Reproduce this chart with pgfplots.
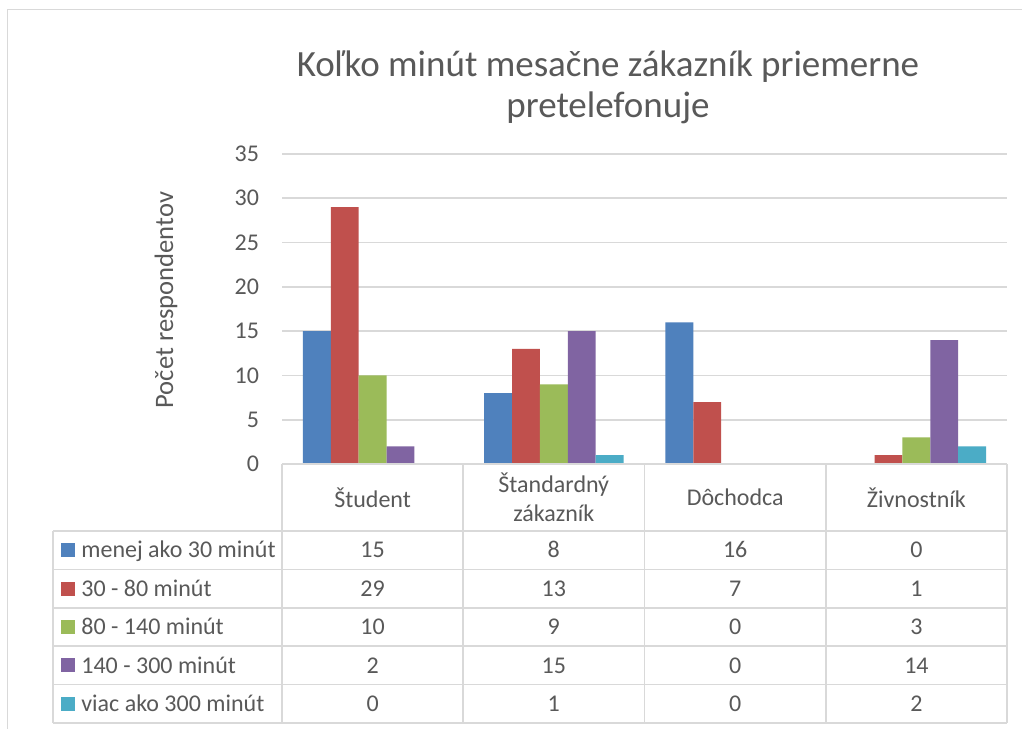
\documentclass[border=0pt]{standalone}
\usepackage{pgfplots}
\pgfplotsset{compat=1.18}
\usepackage{fontspec}
\setmainfont{Carlito}
\setsansfont{Carlito}
\definecolor{txt}{HTML}{595959}
\definecolor{grd}{HTML}{D9D9D9}
\definecolor{c1}{HTML}{4F81BD}
\definecolor{c2}{HTML}{C0504D}
\definecolor{c3}{HTML}{9BBB59}
\definecolor{c4}{HTML}{8064A2}
\definecolor{c5}{HTML}{4BACC6}
\newcommand{\tf}{\fontsize{12bp}{14.6bp}\selectfont}
\begin{document}
\begin{tikzpicture}[x=1bp,y=1bp]
\useasboundingbox (0,0) rectangle (511,364);
\clip (0,0) rectangle (511,364);
\fill[white] (0,0) rectangle (511,364);
\draw[grd, line width=0.8bp] (3.75,-20) rectangle (540,359.25);
% title
\node[anchor=base, text=txt, font=\fontsize{18.5bp}{22bp}\selectfont, inner sep=0pt] at (304,326) {Koľko minút mesačne zákazník priemerne};
\node[anchor=base, text=txt, font=\fontsize{18.5bp}{22bp}\selectfont, inner sep=0pt] at (304,305.5) {pretelefonuje};
% y label
\node[rotate=90, text=txt, font=\fontsize{13.3bp}{16bp}\selectfont, inner sep=0pt] at (83,214) {Počet respondentov};
\begin{axis}[at={(141bp,132bp)}, anchor=south west, scale only axis,
  width=362.5bp, height=155bp,
  ymin=0, ymax=35, ytick={0,5,...,35},
  xmin=-0.5, xmax=3.5, xtick=\empty,
  axis line style={draw=none},
  ymajorgrids, grid style={grd, line width=0.8bp},
  major tick length=0pt,
  ybar=0pt, bar width=0.15385,
  tick label style={font=\tf, text=txt},
  yticklabel style={xshift=-8bp},
  /pgf/number format/assume math mode=true,
  clip=false]
\addplot[fill=c1, draw=none] coordinates {(0,15) (1,8) (2,16) (3,0)};
\addplot[fill=c2, draw=none] coordinates {(0,29) (1,13) (2,7) (3,1)};
\addplot[fill=c3, draw=none] coordinates {(0,10) (1,9) (2,0) (3,3)};
\addplot[fill=c4, draw=none] coordinates {(0,2) (1,15) (2,0) (3,14)};
\addplot[fill=c5, draw=none] coordinates {(0,0) (1,1) (2,0) (3,2)};
\end{axis}
% data table grid
\begin{scope}[grd, line width=0.8bp]
\draw (141,132) -- (503.5,132);
\foreach \y in {98.5,79.3,60.1,40.9,21.7,2.5} \draw (26.5,\y) -- (503.5,\y);
\draw (26.5,98.5) -- (26.5,2.5);
\foreach \x in {141,231.625,322.25,412.875,503.5} \draw (\x,132) -- (\x,2.5);
\end{scope}
% header
\begin{scope}[text=txt, font=\tf]
\node[align=center, inner sep=0pt] at (186.3,115.25) {Študent};
\node[align=center, inner sep=0pt] at (276.9,115.25) {Štandardný\\zákazník};
\node[align=center, inner sep=0pt] at (367.6,115.25) {Dôchodca};
\node[align=center, inner sep=0pt] at (458.2,115.25) {Živnostník};
\end{scope}
% rows
\newcommand{\trow}[7]{%
  \fill[#2] (30.5,#1-3.5) rectangle (37.5,#1+3.5);
  \node[anchor=base west, inner sep=0pt, text=txt, font=\tf] at (40.5,#1-3.8) {#3};
  \node[anchor=base, inner sep=0pt, text=txt, font=\tf] at (186.3,#1-3.8) {#4};
  \node[anchor=base, inner sep=0pt, text=txt, font=\tf] at (276.9,#1-3.8) {#5};
  \node[anchor=base, inner sep=0pt, text=txt, font=\tf] at (367.6,#1-3.8) {#6};
  \node[anchor=base, inner sep=0pt, text=txt, font=\tf] at (458.2,#1-3.8) {#7};
}
\trow{88.9}{c1}{menej ako 30 minút}{15}{8}{16}{0}
\trow{69.7}{c2}{30 - 80 minút}{29}{13}{7}{1}
\trow{50.5}{c3}{80 - 140 minút}{10}{9}{0}{3}
\trow{31.3}{c4}{140 - 300 minút}{2}{15}{0}{14}
\trow{12.1}{c5}{viac ako 300 minút}{0}{1}{0}{2}
\end{tikzpicture}
\end{document}
